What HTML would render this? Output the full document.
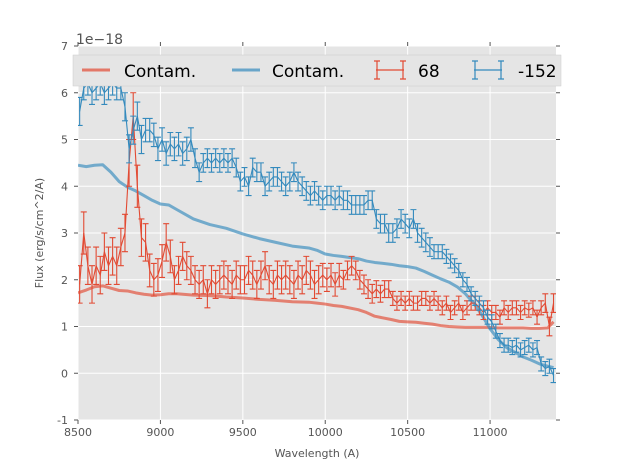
<!DOCTYPE html>
<html><head><meta charset="utf-8"><style>
body{margin:0;background:#fff;width:617px;height:467px;overflow:hidden;font-family:"Liberation Sans","DejaVu Sans",sans-serif}
svg text{font-family:"DejaVu Sans","Liberation Sans",sans-serif}
</style></head><body>
<svg id="chart" width="617" height="467" xmlns="http://www.w3.org/2000/svg">
<defs><clipPath id="pc"><rect x="78" y="46" width="478" height="374"/></clipPath></defs>
<rect x="78" y="46" width="478" height="374" fill="#e5e5e5"/>
<g id="grid"></g><g id="series" clip-path="url(#pc)"></g><g id="axes"></g>
<text x="76" y="44" font-size="14" fill="#555">1e−18</text>
<text x="317" y="457" font-size="11" fill="#555" text-anchor="middle">Wavelength (A)</text>
<text transform="translate(43,233) rotate(-90)" font-size="11" fill="#555" text-anchor="middle">Flux (erg/s/cm^2/A)</text>
<g>
<rect x="73" y="55" width="488" height="31" fill="#e5e5e5" stroke="#ccc" stroke-width="0.5"/>
<line x1="82" y1="70" x2="110" y2="70" stroke="#E24A33" stroke-opacity="0.7" stroke-width="3"/>
<text x="124" y="77" font-size="17" fill="#000">Contam.</text>
<line x1="232" y1="70" x2="260" y2="70" stroke="#348ABD" stroke-opacity="0.7" stroke-width="3"/>
<text x="272" y="77" font-size="17" fill="#000">Contam.</text>
<g stroke="#E24A33" stroke-width="1.2" fill="none"><path d="M376 70H404M377 61V79M403 61V79M374 61H380M374 79H380M400 61H406M400 79H406"/></g>
<text x="418" y="77" font-size="17" fill="#000">68</text>
<g stroke="#348ABD" stroke-width="1.2" fill="none"><path d="M474 70H502M475 61V79M501 61V79M472 61H478M472 79H478M498 61H504M498 79H504"/></g>
<text x="518" y="77" font-size="17" fill="#000">-152</text>
</g>
</svg>
<script>
const xTicks=[8500,9000,9500,10000,10500,11000];
const yTicks=[-1,0,1,2,3,4,5,6,7];
const wl=[];for(let w=8510;w<=11385;w+=25)wl.push(w);
const redFlux=[1.9,3.0,2.3,1.9,2.3,2.1,2.6,2.3,2.5,2.3,2.7,3.0,4.5,5.5,4.0,2.9,2.8,2.2,2.0,2.1,2.4,2.8,2.5,2.0,2.2,2.5,2.3,2.2,2.0,1.9,2.0,1.7,2.0,1.9,2.0,2.1,2.0,1.9,2.1,2.0,2.0,2.2,2.1,1.9,2.1,2.3,2.0,1.9,2.1,2.0,2.1,2.0,1.9,2.1,2.0,2.2,2.1,1.9,2.0,2.1,2.0,2.1,1.9,2.1,2.0,2.2,2.3,2.2,2.0,1.9,1.8,1.7,1.8,1.7,1.8,1.8,1.6,1.5,1.6,1.5,1.6,1.5,1.5,1.6,1.6,1.5,1.6,1.5,1.4,1.5,1.3,1.4,1.5,1.3,1.4,1.5,1.5,1.4,1.3,1.4,1.3,1.3,1.2,1.4,1.3,1.4,1.4,1.3,1.4,1.35,1.4,1.2,1.4,1.5,1.0,1.5];
const redErr=[0.4,0.45,0.4,0.4,0.4,0.4,0.4,0.4,0.4,0.4,0.4,0.4,0.5,0.5,0.45,0.4,0.4,0.35,0.35,0.35,0.35,0.4,0.35,0.3,0.3,0.3,0.3,0.3,0.3,0.3,0.3,0.3,0.3,0.3,0.3,0.3,0.3,0.3,0.3,0.3,0.3,0.3,0.3,0.3,0.3,0.3,0.3,0.3,0.3,0.3,0.3,0.3,0.3,0.3,0.3,0.3,0.3,0.3,0.3,0.25,0.25,0.25,0.25,0.25,0.2,0.2,0.2,0.2,0.2,0.2,0.2,0.2,0.18,0.18,0.18,0.18,0.15,0.15,0.15,0.15,0.15,0.15,0.15,0.15,0.15,0.15,0.15,0.15,0.15,0.15,0.15,0.15,0.15,0.15,0.15,0.15,0.15,0.15,0.15,0.15,0.15,0.15,0.15,0.15,0.15,0.15,0.15,0.15,0.15,0.15,0.15,0.15,0.15,0.2,0.2,0.2];
const blueFlux=[5.6,6.1,6.2,6.0,6.1,6.2,6.0,6.1,6.2,6.1,6.1,5.7,4.8,5.2,5.5,5.0,5.2,5.2,5.1,4.8,5.0,4.7,4.9,4.8,4.9,4.7,4.8,5.0,4.6,4.3,4.5,4.6,4.5,4.6,4.5,4.6,4.5,4.6,4.4,4.1,4.2,4.0,4.4,4.3,4.3,4.0,4.1,4.2,4.2,4.1,4.0,4.1,4.3,4.1,4.0,3.9,3.8,3.9,3.8,3.7,3.8,3.8,3.7,3.8,3.7,3.7,3.6,3.6,3.6,3.6,3.7,3.7,3.3,3.2,3.2,3.0,3.0,3.1,3.3,3.2,3.1,3.3,3.0,2.9,2.8,2.7,2.6,2.6,2.6,2.5,2.4,2.3,2.2,2.0,1.9,1.7,1.6,1.5,1.4,1.2,1.1,0.9,0.7,0.6,0.6,0.55,0.6,0.5,0.55,0.6,0.5,0.55,0.2,0.1,0.15,-0.05];
const blueErr=[0.3,0.25,0.25,0.25,0.25,0.25,0.25,0.25,0.25,0.25,0.25,0.3,0.3,0.3,0.3,0.3,0.25,0.25,0.25,0.25,0.25,0.25,0.25,0.25,0.25,0.25,0.25,0.25,0.2,0.2,0.2,0.2,0.2,0.2,0.2,0.2,0.2,0.2,0.2,0.2,0.2,0.2,0.2,0.2,0.2,0.2,0.2,0.2,0.2,0.2,0.2,0.2,0.2,0.2,0.2,0.2,0.2,0.2,0.2,0.2,0.2,0.2,0.2,0.2,0.2,0.2,0.2,0.2,0.2,0.2,0.2,0.2,0.2,0.2,0.2,0.2,0.2,0.2,0.2,0.2,0.2,0.2,0.2,0.2,0.2,0.2,0.15,0.15,0.15,0.15,0.15,0.15,0.15,0.15,0.15,0.15,0.15,0.15,0.15,0.15,0.15,0.15,0.15,0.15,0.15,0.15,0.15,0.15,0.15,0.15,0.15,0.15,0.15,0.15,0.15,0.15];
const contamWl=[8500,8550,8600,8650,8700,8750,8800,8850,8900,8950,9000,9050,9100,9200,9300,9400,9500,9600,9700,9800,9900,9950,10000,10050,10100,10200,10250,10300,10400,10450,10500,10550,10600,10650,10700,10750,10800,10850,10900,10950,11000,11050,11100,11150,11200,11250,11300,11350,11385];
const contamRed=[1.72,1.78,1.85,1.87,1.82,1.77,1.76,1.72,1.69,1.67,1.68,1.7,1.7,1.67,1.66,1.63,1.61,1.58,1.56,1.53,1.52,1.5,1.48,1.45,1.43,1.36,1.3,1.22,1.15,1.11,1.1,1.09,1.07,1.05,1.02,1.0,0.99,0.98,0.98,0.98,0.98,0.97,0.97,0.97,0.97,0.96,0.96,0.97,1.1];
const contamBlue=[4.45,4.42,4.45,4.46,4.3,4.1,3.98,3.9,3.8,3.7,3.62,3.6,3.5,3.3,3.18,3.1,2.98,2.88,2.8,2.72,2.68,2.63,2.55,2.52,2.5,2.45,2.4,2.37,2.33,2.3,2.28,2.25,2.18,2.1,2.02,1.95,1.85,1.7,1.5,1.25,0.95,0.72,0.55,0.45,0.35,0.28,0.2,0.15,0.12];
const X=v=>78+(v-8500)*478/2900;
const Y=v=>420-(v+1)*374/8;
const NS='http://www.w3.org/2000/svg';
function mk(tag,attrs,parent){const e=document.createElementNS(NS,tag);for(const k in attrs)e.setAttribute(k,attrs[k]);parent.appendChild(e);return e;}
const grid=document.getElementById('grid'),axes=document.getElementById('axes'),ser=document.getElementById('series');
xTicks.forEach(t=>{
 const g=mk('line',{x1:X(t),x2:X(t),y1:46,y2:420,stroke:'#fff','stroke-width':1},grid);
 
 
 mk('line',{x1:X(t),x2:X(t),y1:420,y2:424,stroke:'#555'},axes);
 mk('line',{x1:X(t),x2:X(t),y1:46,y2:42,stroke:'#555'},axes);
 const tx=mk('text',{x:X(t),y:436,'font-size':11,fill:'#555','text-anchor':'middle'},axes);tx.textContent=t;
 
 
});
yTicks.forEach(t=>{
 const g=mk('line',{x1:78,x2:556,y1:Y(t),y2:Y(t),stroke:'#fff','stroke-width':1},grid);
 
 
 mk('line',{x1:74,x2:78,y1:Y(t),y2:Y(t),stroke:'#555'},axes);
 mk('line',{x1:556,x2:560,y1:Y(t),y2:Y(t),stroke:'#555'},axes);
 const tx=mk('text',{x:68,y:Y(t)+4,'font-size':11,fill:'#555','text-anchor':'end'},axes);tx.textContent=t;
 
 
});
function line(xs,ys,color,w,op,name){
 const p=mk('polyline',{points:xs.map((x,i)=>X(x)+','+Y(ys[i])).join(' '),fill:'none',stroke:color,'stroke-width':w,'stroke-opacity':op,'stroke-linejoin':'round'},ser);
 
 
}
function errs(xs,ys,es,color,name){
 const g=mk('g',{stroke:color,'stroke-width':1.1,fill:'none'},ser);
 
 
 let d='';
 xs.forEach((x,i)=>{const px=X(x),t=Y(ys[i]+es[i]),b=Y(ys[i]-es[i]);d+=`M${px} ${t}V${b}M${px-3} ${t}H${px+3}M${px-3} ${b}H${px+3}`;});
 mk('path',{d:d},g);
 mk('polyline',{points:xs.map((x,i)=>X(x)+','+Y(ys[i])).join(' ')},g);
}
line(contamWl,contamRed,'#E24A33',3,0.65,'contam-red-line');
line(contamWl,contamBlue,'#348ABD',3,0.65,'contam-blue-line');
errs(wl,redFlux,redErr,'#E24A33','series-68-errorbars');
errs(wl,blueFlux,blueErr,'#348ABD','series-152-errorbars');
</script>
</body></html>
